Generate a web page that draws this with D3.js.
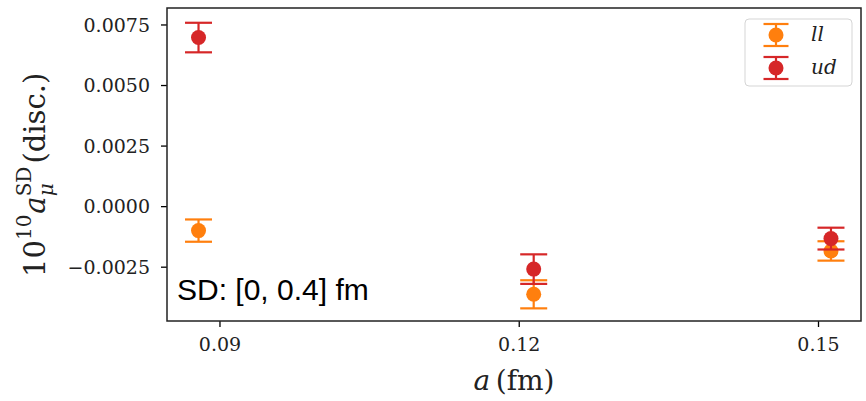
<!DOCTYPE html>
<html>
<head>
<meta charset="utf-8">
<script src="https://cdn.jsdelivr.net/npm/d3@7"></script>
<style>
  body { margin: 0; background: #fff; }
  svg { display: block; }
</style>
</head>
<body>
<div id="chart"></div>
<script>
// lattice spacings (fm)
const spacings = [0.0879, 0.1215, 0.1513];
// series values and errors
const llValues = [-0.00101, -0.00364, -0.00185];
const llErrors = [0.00046, 0.00058, 0.00040];
const udValues = [0.00696, -0.00260, -0.00134];
const udErrors = [0.00061, 0.00061, 0.00045];
const seriesNames = ["ll", "ud"];
const seriesColors = ["#ff7f0e", "#d62728"];
const xTicks = [0.09, 0.12, 0.15];
const yTicks = [-0.0025, 0.0, 0.0025, 0.005, 0.0075];

const width = 866, height = 401;
const margin = {top: 8, right: 5, bottom: 80, left: 167};

const svg = d3.select("#chart").append("svg")
    .attr("width", width)
    .attr("height", height);

const x = d3.scaleLinear()
    .domain([0.08474, 0.15431])
    .range([margin.left, width - margin.right]);

const y = d3.scaleLinear()
    .domain([-0.004742, 0.00818])
    .range([height - margin.bottom, margin.top]);

const serif = "DejaVu Serif, serif";

// axes
const xAxis = svg.append("g")
    .attr("transform", "translate(0," + (height - margin.bottom) + ")")
    .call(d3.axisBottom(x).tickValues(xTicks).tickFormat(d3.format(".2f")).tickSize(6).tickPadding(11));

const yAxis = svg.append("g")
    .attr("transform", "translate(" + margin.left + ",0)")
    .call(d3.axisLeft(y).tickValues(yTicks).tickFormat(d => d3.format(".4f")(d).replace("-", "\u2212")).tickSize(6).tickPadding(11));

[xAxis, yAxis].forEach(g => {
    g.select(".domain").remove();
    g.selectAll(".tick line").attr("stroke", "#000").attr("stroke-width", 1.3);
    g.selectAll(".tick text")
        .attr("fill", "#222")
        .style("font-family", serif)
        .style("font-size", "19px");
});
yAxis.selectAll(".tick text").attr("dy", "0.36em");

// data series
const series = [
    {name: seriesNames[0], color: seriesColors[0], values: llValues, errors: llErrors},
    {name: seriesNames[1], color: seriesColors[1], values: udValues, errors: udErrors}
];

const capHalf = 13.5;

series.forEach(s => {
    const pts = spacings.map((a, i) => ({a: a, v: s.values[i], e: s.errors[i]}));
    const g = svg.append("g");
    g.selectAll(".err").data(pts).enter().append("line")
        .attr("x1", d => x(d.a)).attr("x2", d => x(d.a))
        .attr("y1", d => y(d.v - d.e)).attr("y2", d => y(d.v + d.e))
        .attr("stroke", s.color).attr("stroke-width", 2.2);
    [-1, 1].forEach(sign => {
        g.selectAll(".cap" + sign).data(pts).enter().append("line")
            .attr("x1", d => x(d.a) - capHalf).attr("x2", d => x(d.a) + capHalf)
            .attr("y1", d => y(d.v + sign * d.e)).attr("y2", d => y(d.v + sign * d.e))
            .attr("stroke", s.color).attr("stroke-width", 2.2);
    });
    g.selectAll(".dot").data(pts).enter().append("circle")
        .attr("cx", d => x(d.a)).attr("cy", d => y(d.v))
        .attr("r", 7.5).attr("fill", s.color);
});

// annotation
svg.append("text")
    .attr("x", 177).attr("y", 300)
    .style("font-family", "Liberation Sans, Arial, sans-serif")
    .style("font-size", "30px")
    .attr("fill", "#000")
    .text("SD: [0, 0.4] fm");

// frame
svg.append("rect")
    .attr("x", margin.left).attr("y", margin.top)
    .attr("width", width - margin.right - margin.left)
    .attr("height", height - margin.bottom - margin.top)
    .attr("fill", "none").attr("stroke", "#222").attr("stroke-width", 1.5);

// legend
const legend = svg.append("g");
legend.append("rect")
    .attr("x", 745).attr("y", 19).attr("width", 107).attr("height", 67)
    .attr("rx", 4).attr("fill", "#fff").attr("fill-opacity", 0.8)
    .attr("stroke", "#d5d5d5").attr("stroke-width", 1);
series.forEach((s, i) => {
    const ly = 35 + i * 33, lx = 776;
    const lg = legend.append("g");
    lg.append("line").attr("x1", lx).attr("x2", lx).attr("y1", ly - 11).attr("y2", ly + 11)
        .attr("stroke", s.color).attr("stroke-width", 2.2);
    [-11, 11].forEach(o => lg.append("line")
        .attr("x1", lx - 12.5).attr("x2", lx + 12.5).attr("y1", ly + o).attr("y2", ly + o)
        .attr("stroke", s.color).attr("stroke-width", 2.2));
    lg.append("circle").attr("cx", lx).attr("cy", ly).attr("r", 7.5).attr("fill", s.color);
    lg.append("text").attr("x", 811).attr("y", ly + 6)
        .style("font-family", serif).style("font-style", "italic").style("font-size", "20px")
        .attr("fill", "#222")
        .text(s.name);
});

// x label
const xl = svg.append("text")
    .attr("x", (margin.left + width - margin.right) / 2).attr("y", 390)
    .attr("text-anchor", "middle")
    .style("font-family", serif).style("font-size", "28px").attr("fill", "#222");
xl.append("tspan").style("font-style", "italic").text("a");
xl.append("tspan").text("\u2009(fm)");

// y label, built piece by piece along a rotated baseline
const yl = svg.append("g").attr("transform", "translate(45,277) rotate(-90)");
let pos = 0;
function piece(txt, size, dy, italic, advance) {
    const t = yl.append("text")
        .attr("x", pos).attr("y", dy)
        .style("font-family", serif).style("font-size", size + "px")
        .style("font-style", italic ? "italic" : "normal")
        .attr("fill", "#222").text(txt);
    const w = t.node().getComputedTextLength();
    if (advance) pos += w;
    return w;
}
piece("10", 29, 0, false, true);
piece("10", 20, -14, false, true);
pos += 1;
piece("a", 29, 0, true, true);
const muW = piece("\u03bc", 20, 8, true, false);
const sdW = piece("SD", 20, -14, false, false);
pos += Math.max(muW, sdW) + 3;
piece("(disc.)", 29, 0, false, true);
</script>
</body>
</html>
